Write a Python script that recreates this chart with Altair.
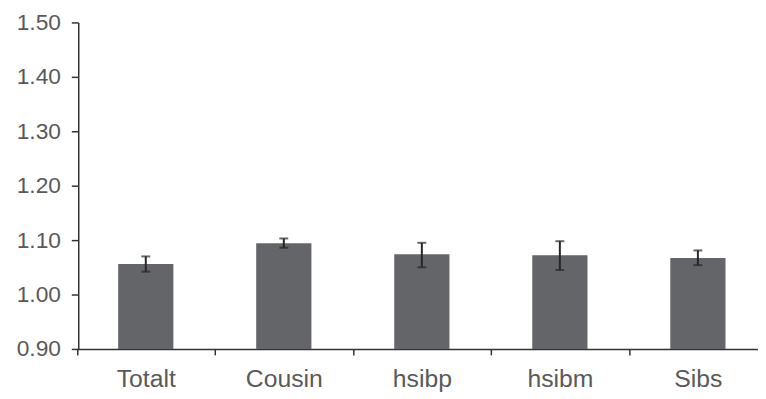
import altair as alt
import pandas as pd

categories = ["Totalt", "Cousin", "hsibp", "hsibm", "Sibs"]
values = [1.056, 1.094, 1.074, 1.072, 1.067]
lower = [1.042, 1.086, 1.050, 1.045, 1.054]
upper = [1.070, 1.103, 1.095, 1.098, 1.081]
y_ticks = [0.90, 1.00, 1.10, 1.20, 1.30, 1.40, 1.50]

df = pd.DataFrame({"cat": categories, "val": values, "lo": lower, "hi": upper})

FONT = "Liberation Sans"
LABEL_COLOR = "#595959"
AXIS_COLOR = "#333333"

x_axis = alt.Axis(
    tickBand="extent",
    labelAngle=0,
    labelFont=FONT,
    labelFontSize=25,
    labelColor=LABEL_COLOR,
    labelBaseline="alphabetic",
    labelPadding=32,
    tickSize=6,
    tickColor=AXIS_COLOR,
    tickWidth=1.5,
    domainColor=AXIS_COLOR,
    domainWidth=1.5,
    grid=False,
)
x_scale = alt.Scale(range=[-1.5, 696], paddingInner=0, paddingOuter=0)

y_scale = alt.Scale(domain=[0.9, 1.5], zero=False, nice=False)
y_axis = alt.Axis(
    values=y_ticks,
    format=".2f",
    grid=False,
    labelFont=FONT,
    labelFontSize=23,
    labelColor=LABEL_COLOR,
    labelPadding=11,
    tickSize=7,
    tickColor=AXIS_COLOR,
    tickWidth=1.5,
    domainColor=AXIS_COLOR,
    domainWidth=1.5,
)

x_enc = alt.X("cat:N", sort=categories, title=None, scale=x_scale, axis=x_axis)

base = alt.Chart(df)

bars = base.mark_bar(color="#646569", width={"band": 0.4}).encode(
    x=x_enc,
    y=alt.Y("val:Q", scale=y_scale, axis=y_axis, title=None),
    y2=alt.datum(0.9),
)

rule = base.mark_rule(color="#262626", strokeWidth=2).encode(
    x=x_enc,
    y=alt.Y("lo:Q", scale=y_scale, axis=y_axis, title=None),
    y2="hi:Q",
)

cap_hi = base.mark_tick(color="#262626", thickness=2, size=9).encode(
    x=x_enc,
    y=alt.Y("hi:Q", scale=y_scale, axis=y_axis, title=None),
)
cap_lo = base.mark_tick(color="#262626", thickness=2, size=9).encode(
    x=x_enc,
    y=alt.Y("lo:Q", scale=y_scale, axis=y_axis, title=None),
)

chart = (
    alt.layer(bars, rule, cap_hi, cap_lo)
    .properties(
        width=687,
        height=330,
        autosize=alt.AutoSizeParams(type="none"),
        padding={"left": 71, "top": 12.5, "right": 0, "bottom": 48},
        view=alt.ViewBackground(stroke="transparent", strokeWidth=0, fill="white"),
    )
    .configure_view(strokeWidth=0, stroke="transparent")
    .configure_axis(grid=False, gridColor="transparent", gridOpacity=0)
    .configure(background="white")
)

chart.save("out.html", embed_options={"renderer": "svg", "actions": False})
